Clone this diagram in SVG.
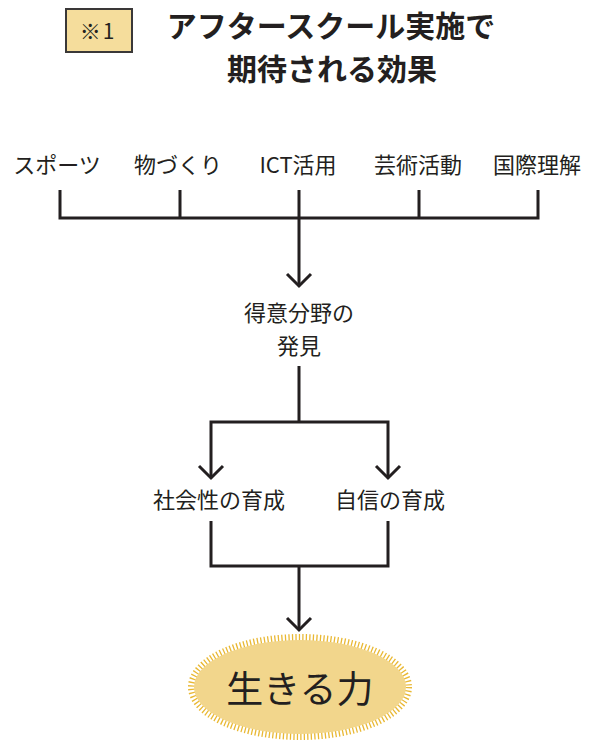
<svg xmlns="http://www.w3.org/2000/svg" width="589" height="742" viewBox="0 0 589 742">
<style>
text{font-family:"Noto Sans CJK JP","Noto Sans",sans-serif;fill:#231f20;text-anchor:middle}
.lbl{font-size:22px}
.ttl{font-size:30px;font-weight:bold}
.ln{fill:none;stroke:#231f20;stroke-width:3;stroke-linecap:butt;stroke-linejoin:miter}
</style>
<rect width="589" height="742" fill="#ffffff"/>
<g id="badge">
<rect x="66" y="9" width="66" height="43" fill="#f5dd9c" stroke="#3a3838" stroke-width="2"/>
<text x="98" y="39" style="font-size:21px;letter-spacing:2px">※1</text>
</g>
<g id="title">
<text class="ttl" x="331" y="37">アフタースクール実施で</text>
<text class="ttl" x="332" y="80">期待される効果</text>
</g>
<g id="n-sports"><text class="lbl" x="57" y="173">スポーツ</text></g>
<g id="n-mono"><text class="lbl" x="178" y="173">物づくり</text></g>
<g id="n-ict"><text class="lbl" x="298" y="173">ICT活用</text></g>
<g id="n-art"><text class="lbl" x="418" y="173">芸術活動</text></g>
<g id="n-intl"><text class="lbl" x="537" y="173">国際理解</text></g>
<g id="n-tokui">
<text class="lbl" x="299" y="321">得意分野の</text>
<text class="lbl" x="299" y="354">発見</text>
</g>
<g id="n-shakai"><text class="lbl" x="219" y="508">社会性の育成</text></g>
<g id="n-jishin"><text class="lbl" x="390" y="508">自信の育成</text></g>
<g id="n-ikiru">
<ellipse cx="300" cy="687" rx="108" ry="49" fill="none" stroke="#e9b833" stroke-width="8" stroke-dasharray="1.3 2.2"/>
<ellipse cx="300" cy="687" rx="106" ry="47" fill="#f2d68c"/>
<text x="300" y="703" style="font-size:37px">生きる力</text>
</g>
<g id="connectors">
<path class="ln" d="M60,190 V218 H538 V190 M180,190 V218 M299,190 V286 M419,190 V218"/>
<path class="ln" d="M287,274 L299,286 L311,274"/>
<path class="ln" d="M299,366 V422 M211,478 V422 H388 V478"/>
<path class="ln" d="M199,466 L211,478 L223,466 M376,466 L388,478 L400,466"/>
<path class="ln" d="M211,521 V566 H388 V521 M299,566 V630"/>
<path class="ln" d="M287,618 L299,630 L311,618"/>
</g>
</svg>
